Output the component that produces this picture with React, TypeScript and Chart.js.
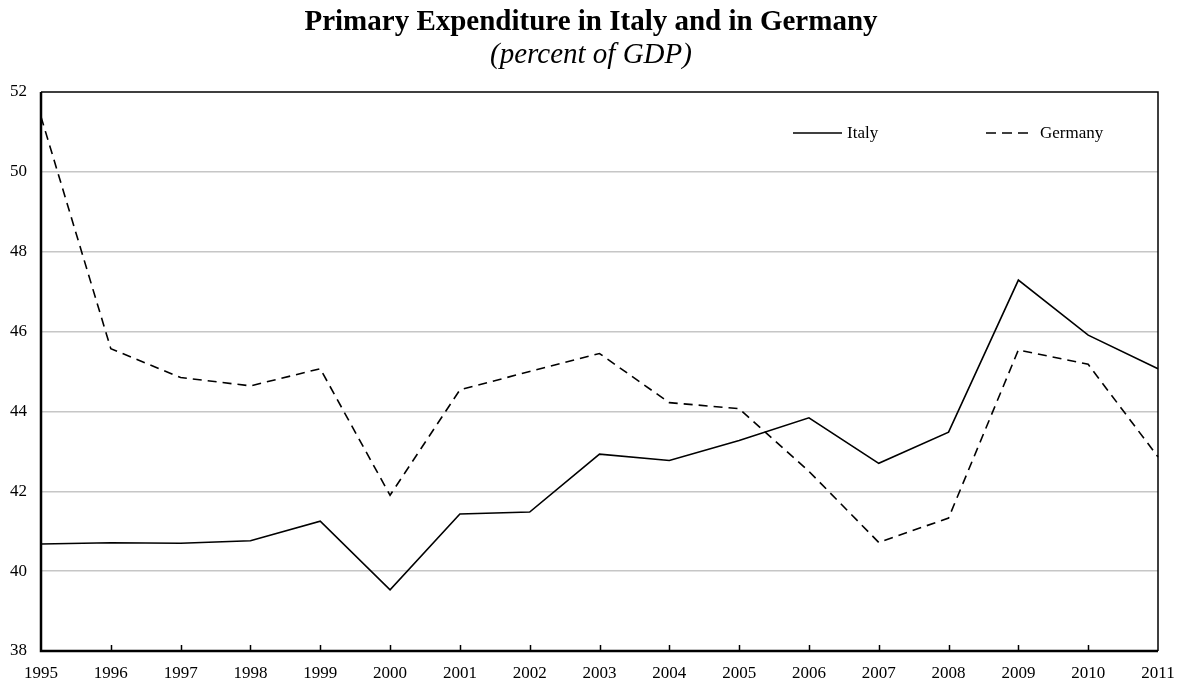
import React, { useEffect, useRef } from "react";
import { Chart, registerables } from "chart.js";

Chart.register(...registerables);

const years = ["1995","1996","1997","1998","1999","2000","2001","2002","2003","2004","2005","2006","2007","2008","2009","2010","2011"];
const italy = [40.68, 40.71, 40.7, 40.76, 41.25, 39.53, 41.43, 41.48, 42.93, 42.77, 43.27, 43.84, 42.7, 43.48, 47.29, 45.91, 45.07];
const germany = [51.38, 45.57, 44.85, 44.64, 45.07, 41.9, 44.54, 45.0, 45.45, 44.22, 44.07, 42.5, 40.72, 41.33, 45.54, 45.18, 42.86];
const yMin = 38;
const yMax = 52;
const yStep = 2;

const FONT = '"Liberation Serif", "Times New Roman", serif';

const framePlugin = {
  id: "frame",
  afterDatasetsDraw(chart: any) {
    const { ctx, chartArea } = chart;
    const { left, right, top, bottom } = chartArea;
    const xs = chart.scales.x;
    ctx.save();
    ctx.strokeStyle = "#000";
    // inward tick marks on bottom axis
    ctx.lineWidth = 1.5;
    for (let i = 1; i < years.length - 1; i++) {
      const x = Math.round(xs.getPixelForValue(i)) + 0.5;
      ctx.beginPath();
      ctx.moveTo(x, bottom);
      ctx.lineTo(x, bottom - 6);
      ctx.stroke();
    }
    // top and right
    ctx.lineWidth = 1.5;
    ctx.beginPath();
    ctx.moveTo(left, top);
    ctx.lineTo(right, top);
    ctx.lineTo(right, bottom);
    ctx.stroke();
    // left and bottom
    ctx.lineWidth = 2.5;
    ctx.beginPath();
    ctx.moveTo(left, top);
    ctx.lineTo(left, bottom);
    ctx.lineTo(right, bottom);
    ctx.stroke();

    // legend inside plot
    ctx.font = `17px ${FONT}`;
    ctx.fillStyle = "#000";
    ctx.textBaseline = "middle";
    ctx.textAlign = "left";
    const ly = 133;
    ctx.lineWidth = 1.6;
    ctx.setLineDash([]);
    ctx.beginPath();
    ctx.moveTo(793, ly);
    ctx.lineTo(842, ly);
    ctx.stroke();
    ctx.fillText(chart.data.datasets[0].label, 847, ly + 1);
    ctx.setLineDash([10, 6]);
    ctx.beginPath();
    ctx.moveTo(986, ly);
    ctx.lineTo(1034, ly);
    ctx.stroke();
    ctx.setLineDash([]);
    ctx.fillText(chart.data.datasets[1].label, 1040, ly + 1);
    ctx.restore();
  },
};

export default function App() {
  const ref = useRef<HTMLCanvasElement | null>(null);
  useEffect(() => {
    if (!ref.current) return;
    const chart = new Chart(ref.current, {
      type: "line",
      data: {
        labels: years,
        datasets: [
          {
            label: "Italy",
            data: italy,
            borderColor: "#000",
            borderWidth: 1.6,
            pointRadius: 0,
            tension: 0,
            fill: false,
          },
          {
            label: "Germany",
            data: germany,
            borderColor: "#000",
            borderWidth: 1.6,
            borderDash: [9, 6],
            pointRadius: 0,
            tension: 0,
            fill: false,
          },
        ],
      },
      options: {
        responsive: true,
        maintainAspectRatio: false,
        animation: false,
        layout: { padding: { left: 0, right: 0, top: 0, bottom: 0 } },
        plugins: {
          legend: { display: false },
          tooltip: { enabled: false },
          title: {
            display: true,
            text: "Primary Expenditure in Italy and in Germany",
            color: "#000",
            font: { family: FONT, size: 29, weight: "bold", lineHeight: 1 },
            padding: { top: 8.5, bottom: 0 },
          },
          subtitle: {
            display: true,
            text: "(percent of GDP)",
            color: "#000",
            font: { family: FONT, size: 29, style: "italic", lineHeight: 1 },
            padding: { top: 3.5, bottom: 22 },
          },
        },
        scales: {
          x: {
            type: "category",
            offset: false,
            grid: { display: false, drawTicks: false },
            border: { display: false },
            ticks: {
              color: "#000",
              font: { family: FONT, size: 17 },
              padding: 12,
              autoSkip: false,
              maxRotation: 0,
              minRotation: 0,
            },
            afterFit(scale: any) {
              scale.height = 36;
              scale.paddingRight = 24;
              scale.paddingLeft = 20;
            },
          },
          y: {
            min: yMin,
            max: yMax,
            grid: {
              drawTicks: false,
              color: (c: any) =>
                c.tick && (c.tick.value === yMin || c.tick.value === yMax) ? "rgba(0,0,0,0)" : "#c6c6c6",
              lineWidth: 1.5,
            },
            border: { display: false },
            ticks: {
              stepSize: yStep,
              color: "#000",
              font: { family: FONT, size: 17 },
              padding: 14,
            },
            afterFit(scale: any) {
              scale.width = 41;
            },
          },
        },
      },
      plugins: [framePlugin],
    });
    return () => chart.destroy();
  }, []);
  return (
    <div style={{ position: "fixed", left: 0, top: 0, width: 1182, height: 687, background: "#fff" }}>
      <canvas ref={ref} />
    </div>
  );
}
